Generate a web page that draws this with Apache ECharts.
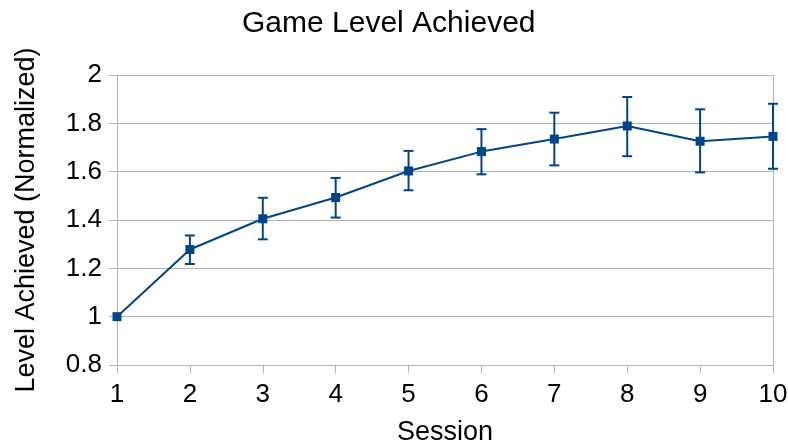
<!DOCTYPE html>
<html>
<head>
<meta charset="utf-8">
<script src="https://cdn.jsdelivr.net/npm/echarts@6/dist/echarts.min.js"></script>
<style>
  html, body { margin: 0; padding: 0; background: #ffffff; }
  #chart { width: 788px; height: 446px; }
</style>
</head>
<body>
<div id="chart"></div>
<script>
// Sessions and mean normalized level, with error-bar bounds
const sessions = ['1', '2', '3', '4', '5', '6', '7', '8', '9', '10'];
const levels = [1.0, 1.278, 1.405, 1.493, 1.603, 1.683, 1.735, 1.789, 1.726, 1.746];
const lowerBounds = [1.0, 1.218, 1.320, 1.410, 1.523, 1.589, 1.626, 1.664, 1.597, 1.612];
const upperBounds = [1.0, 1.336, 1.492, 1.574, 1.686, 1.776, 1.844, 1.909, 1.858, 1.881];
const yTicks = [0.8, 1, 1.2, 1.4, 1.6, 1.8, 2];

const lineColor = '#004586';
const gridColor = '#b3b3b3';
const font = 'Liberation Sans, Arial, sans-serif';

const errorData = sessions.map((s, i) => [i, lowerBounds[i], upperBounds[i]]);

const chart = echarts.init(document.getElementById('chart'), null, { renderer: 'canvas' });

chart.setOption({
  animation: false,
  title: {
    text: 'Game Level Achieved',
    left: 237,
    top: 4,
    textStyle: { fontFamily: font, fontSize: 30, fontWeight: 'normal', color: '#000' }
  },
  grid: { left: 117, right: 15, top: 75, bottom: 81, outerBoundsMode: 'none', containLabel: false },
  xAxis: {
    type: 'category',
    data: sessions,
    boundaryGap: false,
    name: 'Session',
    nameLocation: 'middle',
    nameGap: 54,
    nameTextStyle: { fontFamily: font, fontSize: 27, color: '#000' },
    axisLine: { show: true, lineStyle: { color: gridColor, width: 1 } },
    axisTick: { show: true, alignWithLabel: true, length: 8, lineStyle: { color: gridColor } },
    axisLabel: { fontFamily: font, fontSize: 26, color: '#000', margin: 17 },
    splitLine: { show: false }
  },
  yAxis: {
    type: 'value',
    min: yTicks[0],
    max: yTicks[yTicks.length - 1],
    interval: 0.2,
    name: 'Level Achieved (Normalized)',
    nameLocation: 'middle',
    nameGap: 77,
    nameTextStyle: { fontFamily: font, fontSize: 27, color: '#000' },
    axisLine: { show: true, lineStyle: { color: gridColor, width: 1 } },
    axisTick: { show: true, length: 8, lineStyle: { color: gridColor } },
    axisLabel: {
      fontFamily: font, fontSize: 26, color: '#000', margin: 15,
      formatter: v => String(Math.round(v * 10) / 10)
    },
    splitLine: { show: true, lineStyle: { color: gridColor, width: 1 } }
  },
  series: [
    {
      type: 'custom',
      name: 'error',
      z: 3,
      renderItem: function (params, api) {
        const x = api.value(0);
        const lo = api.coord([x, api.value(1)]);
        const hi = api.coord([x, api.value(2)]);
        if (Math.abs(hi[1] - lo[1]) < 1) return null;
        const cap = 5;
        const style = { stroke: lineColor, lineWidth: 2 };
        return {
          type: 'group',
          children: [
            { type: 'line', shape: { x1: lo[0], y1: lo[1], x2: hi[0], y2: hi[1] }, style: style },
            { type: 'line', shape: { x1: lo[0] - cap, y1: lo[1], x2: lo[0] + cap, y2: lo[1] }, style: style },
            { type: 'line', shape: { x1: hi[0] - cap, y1: hi[1], x2: hi[0] + cap, y2: hi[1] }, style: style }
          ]
        };
      },
      encode: { x: 0, y: [1, 2] },
      data: errorData
    },
    {
      type: 'line',
      name: 'Level',
      z: 4,
      data: levels,
      symbol: 'rect',
      symbolSize: 9,
      lineStyle: { color: lineColor, width: 2 },
      itemStyle: { color: lineColor },
      emphasis: { disabled: true }
    }
  ],
  graphic: [
    {
      type: 'line',
      z: 1,
      shape: { x1: 773.5, y1: 75, x2: 773.5, y2: 365 },
      style: { stroke: gridColor, lineWidth: 1 }
    }
  ]
});
</script>
</body>
</html>
